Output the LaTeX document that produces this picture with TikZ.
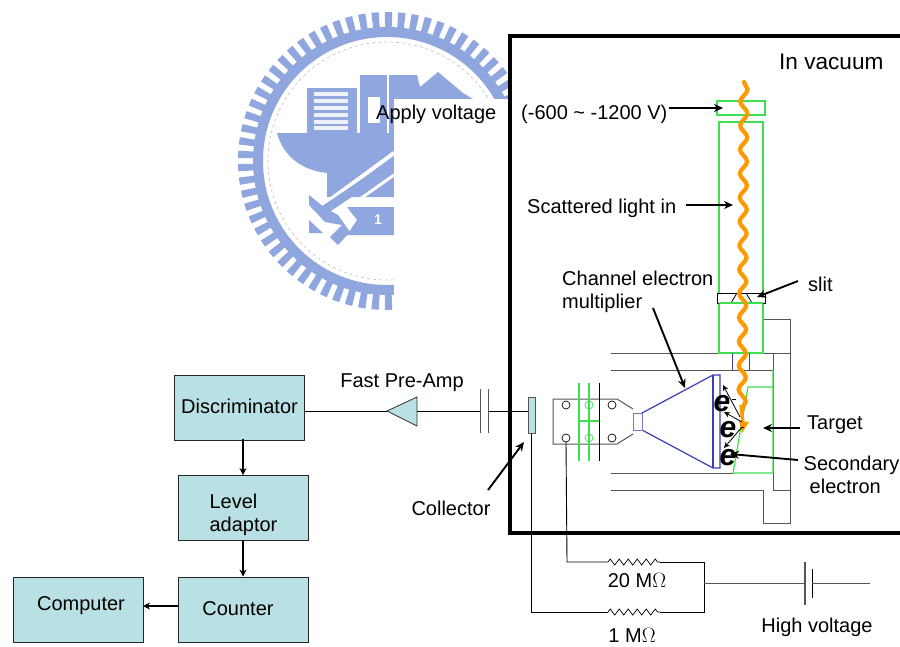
\documentclass[tikz,border=0pt]{standalone}
\usepackage{fontspec}
\setmainfont{Liberation Sans}
\usetikzlibrary{decorations.pathmorphing,arrows.meta}
\definecolor{logoblue}{HTML}{8FA6DE}
\definecolor{boxteal}{HTML}{B9E0E3}
\definecolor{grn}{HTML}{3FE04F}
\definecolor{blu}{HTML}{3A3FB5}
\definecolor{org}{HTML}{FF9900}
\definecolor{gry}{HTML}{555555}
\tikzset{
 x=1pt,y=-1pt,
 lab/.style={font=\fontsize{20}{23}\selectfont,inner sep=0pt,align=center,text height=14.5pt,text depth=4pt},
 mlab/.style={font=\fontsize{20}{23.5}\selectfont,inner sep=0pt},
 block/.style={draw=black!85,line width=0.9pt,fill=boxteal,inner sep=0pt,minimum width=130pt,minimum height=65pt},
 thin line/.style={draw=black,line width=0.9pt},
 grey line/.style={draw=gry,line width=1pt},
 green line/.style={draw=grn,line width=1.2pt},
 blue line/.style={draw=blu,line width=1.2pt},
 pointer/.style={draw=black,line width=1.9pt,-{Stealth[length=9pt,width=8pt]}},
 flow/.style={draw=black,line width=2pt,-{Stealth[length=7pt,width=7pt]}},
 small arrow/.style={draw=black,line width=0.8pt,-{Stealth[length=6pt,width=5.5pt]}},
 resistor/.style={draw=black,line width=0.7pt,decorate,decoration={zigzag,segment length=9pt,amplitude=3pt}},
 wave/.style={draw=org,line width=4.2pt,line cap=round,decorate,decoration={snake,segment length=24pt,amplitude=3.6pt}},
 elec/.style={font=\fontsize{30}{30}\selectfont\bfseries\itshape,inner sep=0pt},
}
\begin{document}
\begin{tikzpicture}
\useasboundingbox (0,0) rectangle (900,646);
\fill[white] (0,0) rectangle (900,646);
% logo
\draw[logoblue,line width=16pt,dash pattern=on 7pt off 5.74pt] (387,161) circle [radius=141];
\draw[logoblue,line width=10pt] (387,161) circle [radius=129];
\draw[gray!50,line width=0.6pt,dashed] (387,161) circle [radius=119];
\fill[logoblue] (277,133) -- (394,133) -- (394,197) -- (327,197) -- (327,173) .. controls (300,170) and (283,155) .. (277,133) -- cycle;
\fill[logoblue] (307,88) rectangle (357,133);
\foreach \yy in {92,99,106,113,120,126} \fill[white,opacity=.85] (314,\yy) rectangle (348,\yy+4);
\fill[logoblue] (360,75) -- (417,75) -- (420,87) -- (438,72) -- (463,93) -- (473,99) -- (473,133) -- (360,133) -- cycle;
\fill[white] (368,97) rectangle (380,123);
\fill[white] (387,75) rectangle (389,133);
\draw[white,line width=4pt] (323,205) -- (394,153);
\draw[logoblue,line width=9pt] (320,213) -- (394,163);
\draw[white,line width=3pt] (330,220) -- (394,175);
\fill[logoblue] (309,195) -- (325,208) -- (338,215) -- (350,232) -- (338,245) -- (330,237) -- (342,225) -- (325,222) -- (309,205) -- cycle;
\fill[logoblue] (309,220) -- (323,233) -- (309,233) -- cycle;
\fill[logoblue] (347,207) -- (394,207) -- (394,235) -- (347,235) -- (357,220) -- cycle;
\node[text=white,font=\bfseries\fontsize{14}{14}\selectfont] at (378,220) {1};
% white cover
\fill[white] (394,99) rectangle (510,340);
% vacuum box
\draw[black,line width=3.8pt,fill=white] (510,36) rectangle (930,533);
% grey housing
\draw[grey line] (763,319) -- (790,319) -- (790,523) -- (763,523) -- (763,490) -- (611,490);
\draw[grey line] (611,353) -- (790,353);
\draw[grey line] (611,370) -- (773,370);
\draw[grey line] (773,353) -- (773,490) -- (790,490);
\draw[grey line] (611,473) -- (733,473);
% collimator green
\draw[green line] (717,101) rectangle (765,115);
\draw[green line] (719,122) rectangle (763,353);
\draw[blu,line width=.8pt] (732,353) -- (732,370) (749,353) -- (749,370);
% target
\draw[green line] (773,370) -- (773,473) -- (733,473) -- (748,387) -- (773,387);
% slit
\draw[black,line width=.8pt,fill=white] (717,293) rectangle (765,303);
\draw[black,line width=.8pt] (731,303) -- (737,293) (752,303) -- (746,293);
\draw[green line] (719,303) -- (763,303);
% CEM
\draw[blue line] (642,413) -- (713,375) -- (720,375) -- (720,468) -- (713,468) -- (642,430);
\draw[blue line] (713,375) -- (713,468);
\draw[blu!70,line width=1pt] (633,413) rectangle (642,430);
% mount
\draw[grey line] (633,409) -- (617,399) -- (553,399) -- (553,444) -- (617,444) -- (633,434);
\draw[green line] (579,383) -- (579,461) (589,383) -- (589,461) (579,421) -- (599,421);
\draw[black,line width=.8pt] (599,383) -- (599,461);
\foreach \xx/\yy/\cc in {566/405/black,566/438/black,612/405/black,612/438/black,589/405/grn,589/438/grn}
 \draw[\cc,line width=.7pt] (\xx,\yy) circle [radius=4];
\coordinate (pin) at (566,442);
% collector
\node[draw=gry,line width=1pt,fill=boxteal,minimum width=7pt,minimum height=36pt,inner sep=0pt] (collector) at (531.5,415) {};
% wave
\draw[wave] (744,82) -- (742,412);
\draw[org,line width=3.4pt] (741,405) -- (743,424);
\fill[org] (739,421) -- (749,422) -- (742,433) -- cycle;
% electrons
\node[elec] at (722,404) {e};
\node[elec] at (728,430) {e};
\node[elec] at (728,458) {e};
\draw[line width=.9pt] (732,399) -- (736,399) (741,427) -- (744,427);
\draw[small arrow] (740,417) -- (723,385);
\draw[small arrow] (742,422) -- (724,412);
\draw[small arrow] (742,427) -- (724,448);
% pointers
\node[lab,anchor=west,font=\fontsize{22.6}{24}\selectfont] (inv) at (779,64) {In vacuum};
\node[lab,anchor=west] (av) at (376,114) {Apply voltage};
\node[lab,anchor=west] (vv) at (521,114) {(-600 \char"007E\ -1200 V)};
\coordinate (avend) at (723,108);
\draw[pointer] (669,108) -- (avend);
\node[lab,anchor=west] (sli) at (527,208) {Scattered light in};
\coordinate (sliend) at (733,205);
\draw[pointer] (686,205) -- (sliend);
\node[lab,anchor=west] (sl) at (808,286) {slit};
\coordinate (slend) at (757,297);
\draw[pointer] (798,281) -- (slend);
\node[mlab,anchor=west,align=left] (cem) at (562,292) {Channel electron\\multiplier};
\coordinate (cemend) at (685,388);
\draw[pointer] (653,308) -- (cemend);
\node[lab,anchor=west] (tg) at (807,424) {Target};
\coordinate (tgend) at (763,428);
\draw[pointer] (800,428) -- (tgend);
\node[mlab,align=left] (se) at (851.5,475) {Secondary\\\hspace*{6pt}electron};
\coordinate (seend) at (730,454);
\draw[pointer] (798,460) -- (seend);
\node[lab] (col) at (451,510) {Collector};
\coordinate (colend) at (524,442);
\draw[pointer] (488,490) -- (colend);
% electronics
\node[block] (disc) at (239,407.5) {};
\node[block] (lev) at (243,508) {};
\node[block] (cnt) at (243,609.5) {};
\node[block] (comp) at (78,609.5) {};
\node[lab] at (239.5,408) {Discriminator};
\node[mlab,align=left] at (243.5,515) {Level\\adaptor};
\node[lab] at (238,610) {Counter};
\node[lab] at (81,605) {Computer};
\draw[flow] (lev.north) ++(0,-36) -- (lev.north);
\draw[flow] (lev) ++(0,32) -- (cnt.north);
\coordinate (flowcnt) at (178,606);
\coordinate (flowcomp) at (143,606);
\draw[flow] (flowcnt) -- (flowcomp);
% amp
\node[lab] at (402,382) {Fast Pre-Amp};
\coordinate (ampL) at (387,411);
\coordinate (ampT) at (417,397);
\coordinate (ampB) at (417,426);
\draw[black!80,line width=.8pt,fill=boxteal] (ampL) -- (ampT) -- (ampB) -- cycle;
\draw[thin line] (304,411) -- (ampL);
\coordinate (cap1) at (480,411);
\coordinate (cap2) at (488,411);
\draw[thin line] (417,411) -- (cap1);
\draw[thin line] (cap2) -- (528,411);
\draw[grey line] (480,389) -- (480,433) (488,389) -- (488,433);
% circuit
\coordinate (r1a) at (608,562);
\coordinate (r1b) at (660,562);
\coordinate (r2a) at (608,612);
\coordinate (r2b) at (660,612);
\coordinate (junc) at (704,583);
\draw[thin line] (pin) -- (567,562) -- (r1a);
\draw[resistor] (r1a) -- (r1b);
\draw[thin line] (r1b) -- (704,562) -- (704,612) -- (r2b);
\draw[resistor] (r2a) -- (r2b);
\draw[thin line] (r2a) -- (531.5,612) -- (collector.south);
\draw[grey line] (junc) -- (805,583);
\draw[grey line,line width=1.2pt] (805,562) -- (805,605);
\draw[black,line width=1pt] (812,569) -- (812,598);
\draw[grey line] (812,583) -- (870,583);
\node[lab] at (637,582) {20 M$\Omega$};
\node[mlab] at (632,635) {1 M$\Omega$};
\node[lab] at (817,627) {High voltage};
\end{tikzpicture}
\end{document}
